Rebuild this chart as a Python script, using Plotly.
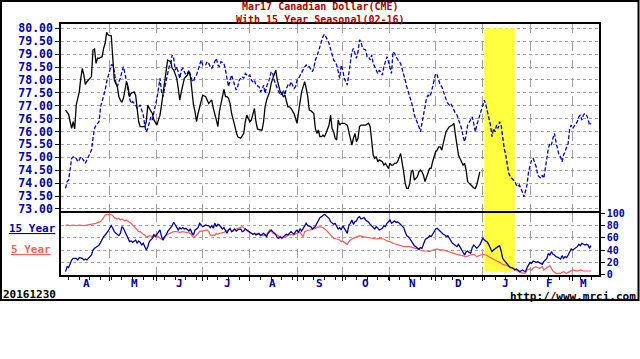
import pandas as pd
import plotly.graph_objects as go

# ---------------- data (day offsets from BASE_DATE) ----------------
BASE_DATE = pd.Timestamp("2016-03-30")

price_points = [
    (3, 76.83), (5, 76.67), (6, 76.38), (7, 76.12), (8, 76.38), (9, 76.10), (10, 77.03), (11, 77.35),
    (12, 77.54), (13, 78.06), (14, 78.45), (15, 78.19), (16, 77.83), (17, 77.93), (19, 78.06), (20, 78.13),
    (21, 79.16), (22, 79.20), (23, 78.64), (24, 78.84), (25, 78.84), (27, 78.90), (28, 79.22), (29, 79.42),
    (30, 79.84), (31, 79.74), (33, 79.71), (34, 78.90), (35, 77.99), (37, 77.74), (38, 77.35), (39, 77.22),
    (40, 77.13), (41, 77.29), (42, 77.61), (43, 77.93), (44, 77.74), (45, 77.35), (46, 77.48), (48, 77.54),
    (49, 77.41), (50, 76.96), (51, 76.38), (52, 76.19), (54, 76.19), (55, 76.19), (56, 76.38), (57, 77.03),
    (58, 76.90), (60, 76.70), (61, 76.45), (63, 76.25), (64, 76.45), (65, 76.64), (66, 77.03), (67, 77.48),
    (68, 77.87), (69, 78.19), (70, 78.77), (72, 78.71), (73, 78.45), (74, 78.38), (75, 78.19), (76, 78.06),
    (77, 77.67), (78, 77.22), (79, 77.54), (80, 77.87), (81, 78.06), (83, 78.19), (84, 78.32), (85, 78.13),
    (86, 77.41), (87, 77.03), (88, 76.77), (89, 76.38), (90, 76.70), (91, 76.96), (92, 77.22), (93, 77.41),
    (95, 77.35), (96, 77.22), (97, 77.09), (98, 77.16), (99, 77.22), (100, 76.90), (101, 76.70), (102, 76.45),
    (103, 76.19), (104, 76.77), (106, 77.35), (107, 77.63), (108, 77.35), (109, 77.35), (110, 77.29), (111, 77.09),
    (112, 76.70), (113, 76.51), (114, 76.25), (115, 75.99), (116, 75.80), (118, 75.74), (119, 75.86), (120, 75.93),
    (121, 76.38), (122, 76.64), (123, 76.51), (124, 76.38), (125, 76.45), (126, 76.70), (127, 76.90), (128, 76.38),
    (129, 76.10), (131, 76.06), (132, 76.06), (133, 76.38), (134, 76.96), (135, 77.22), (136, 77.41), (137, 77.54),
    (138, 77.87), (139, 78.06), (140, 78.25), (141, 78.38), (142, 77.99), (143, 77.74), (144, 77.54), (145, 77.48),
    (146, 77.35), (147, 77.41), (148, 77.22), (149, 76.96), (150, 76.96), (151, 76.90), (153, 76.70), (154, 76.45),
    (155, 76.32), (156, 76.77), (157, 77.22), (158, 77.54), (159, 77.74), (160, 77.93), (161, 77.67), (162, 77.35),
    (163, 76.83), (164, 76.81), (166, 76.70), (167, 76.12), (168, 75.93), (169, 76.06), (170, 75.80), (171, 75.80),
    (172, 75.86), (173, 75.80), (174, 75.93), (176, 76.25), (177, 76.64), (178, 76.12), (179, 75.99), (180, 75.74),
    (181, 75.67), (182, 76.45), (183, 76.25), (184, 76.32), (186, 76.32), (188, 76.25), (189, 75.99), (190, 75.74),
    (191, 75.48), (192, 75.74), (193, 75.93), (194, 75.61), (195, 75.74), (196, 76.19), (197, 76.25), (200, 76.25),
    (202, 76.32), (203, 76.19), (204, 75.74), (205, 75.09), (206, 74.96), (207, 75.03), (208, 74.83), (209, 74.90),
    (211, 74.83), (212, 74.70), (213, 74.77), (214, 74.64), (215, 74.57), (216, 74.77), (217, 74.70), (218, 74.70),
    (219, 74.77), (220, 74.77), (221, 74.83), (223, 75.15), (224, 74.83), (225, 74.44), (226, 73.99), (227, 73.80),
    (228, 73.80), (229, 73.99), (230, 74.44), (231, 74.51), (232, 74.12), (234, 74.25), (235, 74.44), (236, 74.51),
    (237, 74.44), (238, 74.31), (239, 74.06), (240, 74.25), (241, 74.38), (242, 74.57), (243, 74.57), (244, 74.83),
    (246, 75.22), (247, 75.28), (248, 75.41), (249, 75.41), (250, 75.28), (251, 75.61), (252, 75.80), (253, 76.02),
    (254, 76.12), (255, 76.19), (257, 76.25), (258, 76.32), (259, 75.86), (260, 75.35), (261, 75.09), (262, 74.96),
    (263, 74.83), (264, 74.70), (265, 74.77), (266, 74.51), (267, 74.06), (269, 73.93), (270, 73.86), (271, 73.82),
    (272, 73.80), (273, 73.93), (274, 74.19), (275, 74.44),
]

seasonal_points = [
    (3, 73.80), (4, 74.06), (5, 74.12), (6, 74.57), (7, 74.96), (8, 75.02), (9, 74.96), (10, 74.96),
    (11, 74.83), (12, 74.90), (13, 75.02), (14, 74.96), (15, 74.83), (16, 74.77), (17, 74.90), (18, 75.02),
    (19, 75.15), (20, 75.28), (21, 75.74), (22, 76.12), (23, 76.25), (24, 76.30), (25, 76.38), (26, 76.96),
    (27, 77.16), (28, 77.41), (29, 77.61), (30, 77.93), (31, 78.13), (32, 78.32), (33, 78.58), (34, 78.58),
    (35, 78.32), (36, 77.87), (37, 77.74), (38, 77.93), (39, 78.06), (40, 78.32), (41, 78.51), (42, 78.25),
    (43, 77.99), (44, 77.61), (45, 77.29), (46, 77.09), (47, 77.16), (48, 77.10), (49, 77.03), (50, 76.90),
    (51, 76.96), (52, 77.03), (53, 76.83), (54, 76.64), (55, 76.25), (56, 75.99), (57, 76.12), (58, 76.38),
    (59, 76.57), (60, 76.45), (61, 76.83), (62, 77.03), (63, 77.29), (64, 77.80), (65, 78.06), (66, 77.54),
    (67, 77.35), (68, 77.67), (69, 77.93), (70, 78.19), (71, 78.51), (72, 78.58), (73, 78.97), (74, 78.84),
    (75, 78.38), (76, 78.51), (77, 78.32), (78, 78.06), (79, 78.38), (80, 78.45), (81, 78.32), (82, 78.19),
    (83, 78.25), (84, 78.38), (85, 78.19), (86, 77.99), (87, 77.93), (88, 78.13), (89, 78.19), (90, 78.38),
    (91, 78.64), (92, 78.77), (93, 78.58), (94, 78.58), (95, 78.58), (96, 78.71), (97, 78.64), (98, 78.51),
    (99, 78.45), (100, 78.58), (101, 78.71), (102, 78.84), (103, 78.58), (104, 78.51), (105, 78.71), (106, 78.68),
    (107, 78.64), (108, 78.38), (109, 78.06), (110, 77.74), (111, 77.99), (112, 78.19), (113, 77.99), (114, 77.80),
    (115, 77.61), (116, 77.74), (117, 77.99), (118, 78.06), (119, 78.13), (120, 78.06), (121, 78.25), (122, 78.19),
    (123, 78.13), (124, 78.19), (125, 77.99), (126, 77.93), (127, 77.99), (128, 77.80), (129, 77.77), (130, 77.74),
    (131, 77.54), (132, 77.61), (133, 77.80), (134, 77.48), (135, 77.74), (136, 77.87), (137, 78.06), (138, 78.32),
    (139, 78.25), (140, 77.99), (141, 77.80), (142, 77.67), (143, 77.54), (144, 77.41), (145, 77.48), (146, 77.61),
    (147, 77.41), (148, 77.67), (149, 77.80), (150, 77.74), (151, 77.93), (152, 77.80), (153, 77.67), (154, 77.74),
    (155, 77.99), (156, 78.06), (157, 78.19), (158, 78.25), (159, 78.38), (160, 78.51), (161, 78.58), (162, 78.51),
    (163, 78.51), (164, 78.42), (165, 78.32), (166, 78.45), (167, 78.77), (168, 78.90), (169, 79.09), (170, 79.35),
    (171, 79.55), (172, 79.68), (173, 79.77), (174, 79.68), (175, 79.55), (176, 79.42), (177, 79.16), (178, 78.90),
    (179, 78.77), (180, 78.71), (181, 78.58), (182, 78.32), (183, 78.06), (184, 78.58), (185, 78.38), (186, 78.06),
    (187, 77.93), (188, 77.80), (189, 78.25), (190, 78.71), (191, 79.09), (192, 79.22), (193, 79.03), (194, 78.84),
    (195, 79.09), (196, 79.55), (197, 79.48), (198, 79.22), (199, 79.19), (200, 79.16), (201, 78.90), (202, 78.90),
    (203, 78.77), (204, 78.97), (205, 78.64), (206, 78.51), (207, 78.32), (208, 78.25), (209, 78.38), (210, 78.30),
    (211, 78.19), (212, 78.51), (213, 78.77), (214, 78.90), (215, 78.71), (216, 78.45), (217, 78.25), (218, 79.09),
    (219, 79.03), (220, 78.90), (221, 78.77), (222, 78.70), (223, 78.64), (224, 78.45), (225, 78.25), (226, 77.99),
    (227, 77.74), (228, 77.54), (229, 77.35), (230, 77.22), (231, 76.96), (232, 76.64), (233, 76.50), (234, 76.38),
    (235, 76.19), (236, 75.99), (237, 76.25), (238, 76.64), (239, 76.96), (240, 77.29), (241, 77.41), (242, 77.35),
    (243, 77.48), (244, 77.74), (245, 78.00), (246, 78.25), (247, 78.19), (248, 77.99), (249, 77.80), (250, 77.74),
    (251, 77.54), (252, 77.41), (253, 77.22), (254, 77.09), (255, 77.03), (256, 77.09), (257, 76.96), (258, 76.90),
    (259, 76.70), (260, 76.64), (261, 76.45), (262, 76.25), (263, 76.12), (264, 75.80), (265, 75.61), (266, 75.86),
    (267, 76.25), (268, 76.35), (270, 76.57), (271, 76.32), (272, 75.99), (273, 76.25), (274, 76.45), (275, 76.70),
    (276, 76.90), (277, 77.03), (278, 77.22), (279, 77.03), (280, 76.80), (281, 76.57), (282, 76.25), (283, 75.80),
    (284, 76.12), (285, 75.99), (286, 76.25), (287, 76.12), (288, 76.38), (289, 76.25), (290, 75.67), (291, 75.35),
    (292, 75.09), (293, 74.70), (294, 74.38), (295, 74.25), (296, 74.19), (297, 74.12), (298, 74.06), (299, 73.93),
    (300, 73.86), (301, 73.93), (302, 73.80), (303, 73.65), (304, 73.47), (305, 73.67), (306, 73.93), (307, 74.44),
    (308, 74.64), (309, 74.90), (310, 74.96), (311, 74.83), (312, 74.64), (313, 74.31), (314, 74.25), (315, 74.19),
    (316, 74.31), (317, 74.19), (318, 74.57), (319, 74.96), (320, 75.35), (321, 75.54), (322, 75.48), (323, 75.74),
    (324, 75.93), (325, 75.60), (326, 75.35), (327, 75.09), (328, 75.02), (329, 74.83), (330, 75.09), (331, 75.22),
    (332, 75.35), (333, 75.54), (334, 76.12), (335, 76.25), (336, 76.12), (337, 76.19), (338, 76.30), (339, 76.38),
    (340, 76.57), (341, 76.64), (342, 76.45), (343, 76.64), (344, 76.70), (345, 76.64), (346, 76.51), (347, 76.25),
    (348, 76.32),
]

index15_points = [
    (3, 4.7), (4, 12.8), (5, 11.2), (6, 18.3), (7, 23.7), (8, 26.4), (10, 26.4), (11, 23.7), (12, 27.5), (13, 27.0),
    (14, 26.4), (15, 23.7), (16, 25.4), (17, 23.7), (18, 27.5), (19, 29.2), (20, 31.9), (21, 40.1), (22, 42.8),
    (23, 43.9), (24, 46.0), (25, 48.2), (26, 53.7), (27, 59.1), (28, 61.9), (29, 64.6), (30, 67.3), (31, 71.1),
    (32, 75.5), (33, 79.8), (34, 75.5), (35, 70.0), (36, 67.5), (37, 65.7), (38, 63.5), (39, 67.3), (40, 78.2),
    (41, 75.5), (42, 70.0), (43, 67.3), (44, 61.9), (45, 53.7), (46, 54.8), (47, 52.6), (48, 54.5), (49, 56.4),
    (50, 51.0), (51, 54.8), (52, 52.6), (53, 48.2), (54, 51.0), (55, 45.5), (56, 40.1), (57, 45.5), (58, 53.7),
    (59, 56.5), (60, 59.1), (61, 64.6), (62, 61.9), (63, 65.7), (64, 70.0), (65, 72.8), (66, 61.9), (67, 56.4),
    (68, 61.9), (69, 64.6), (70, 70.0), (71, 73.0), (72, 75.5), (73, 79.8), (74, 85.3), (75, 80.9), (76, 75.5),
    (77, 72.8), (78, 76.6), (79, 74.4), (80, 76.6), (81, 74.4), (82, 75.5), (83, 73.0), (84, 71.1), (85, 74.4),
    (86, 67.3), (87, 64.6), (88, 72.8), (89, 74.4), (90, 76.6), (91, 83.6), (92, 80.9), (93, 78.2), (94, 79.5),
    (95, 80.9), (96, 79.8), (97, 79.8), (98, 76.6), (99, 79.8), (100, 75.5), (101, 83.6), (102, 78.2), (103, 82.0),
    (104, 80.9), (105, 77.0), (106, 74.4), (107, 76.6), (108, 71.1), (109, 67.3), (110, 72.8), (111, 75.5),
    (112, 70.0), (113, 71.1), (114, 74.4), (115, 71.1), (116, 72.8), (117, 73.5), (118, 74.4), (119, 70.0),
    (120, 71.1), (121, 74.4), (122, 72.8), (123, 71.1), (124, 70.0), (125, 67.3), (126, 65.7), (127, 67.3),
    (128, 64.6), (129, 66.0), (130, 67.3), (131, 63.5), (132, 65.7), (133, 67.3), (134, 64.6), (135, 61.9),
    (136, 67.3), (137, 71.1), (138, 72.8), (139, 70.0), (140, 68.0), (141, 65.7), (142, 60.2), (143, 59.1),
    (144, 61.9), (145, 59.1), (146, 61.9), (147, 63.5), (148, 65.7), (149, 64.6), (150, 67.3), (151, 70.0),
    (152, 68.0), (153, 65.7), (154, 70.0), (155, 72.8), (156, 68.9), (157, 74.4), (158, 71.1), (159, 75.5),
    (160, 80.9), (161, 83.6), (162, 79.8), (163, 79.0), (164, 78.2), (165, 74.4), (166, 76.6), (167, 78.2),
    (168, 83.6), (169, 89.1), (170, 92.9), (171, 94.5), (172, 97.3), (173, 98.3), (174, 96.2), (175, 94.0),
    (176, 91.8), (177, 86.4), (178, 83.6), (179, 82.0), (180, 83.6), (181, 79.8), (182, 74.4), (183, 76.6),
    (184, 72.8), (185, 79.8), (186, 75.5), (187, 71.0), (188, 67.3), (189, 80.9), (190, 83.6), (191, 89.1),
    (192, 82.0), (193, 86.4), (194, 87.5), (195, 92.9), (196, 94.5), (197, 90.7), (198, 92.0), (199, 92.9),
    (200, 89.1), (201, 87.5), (202, 85.3), (203, 82.0), (204, 79.8), (205, 76.6), (206, 74.4), (207, 78.2),
    (208, 75.5), (209, 72.8), (210, 74.0), (211, 75.5), (212, 79.8), (213, 78.2), (214, 83.6), (215, 86.4),
    (216, 89.1), (217, 83.6), (218, 86.4), (219, 87.5), (220, 85.3), (221, 85.8), (222, 84.0), (223, 82.0),
    (224, 79.8), (225, 76.6), (226, 70.0), (227, 63.5), (228, 61.9), (229, 59.1), (230, 54.8), (231, 51.0),
    (232, 47.1), (233, 45.5), (234, 43.9), (235, 41.2), (236, 43.9), (237, 42.8), (238, 49.3), (239, 56.4),
    (240, 59.1), (241, 60.2), (242, 63.5), (243, 61.9), (244, 65.7), (245, 70.0), (246, 74.4), (247, 75.5),
    (248, 72.8), (249, 70.0), (250, 67.3), (251, 65.7), (252, 64.6), (253, 61.9), (254, 63.5), (255, 59.1),
    (256, 56.0), (257, 51.0), (258, 49.3), (259, 47.1), (260, 45.5), (261, 49.3), (262, 45.5), (263, 41.7),
    (264, 37.3), (265, 31.9), (266, 37.3), (267, 38.4), (268, 36.0), (269, 34.6), (270, 43.9), (271, 48.2),
    (272, 45.5), (273, 42.8), (274, 45.5), (275, 48.2), (276, 53.7), (277, 59.1), (278, 56.4), (279, 54.8),
    (280, 52.6), (281, 48.2), (282, 42.8), (283, 37.3), (284, 40.1), (285, 42.8), (286, 43.9), (287, 45.5),
    (288, 47.1), (289, 38.4), (290, 26.4), (291, 23.0), (292, 19.9), (293, 15.5), (294, 12.8), (295, 11.2),
    (296, 11.2), (297, 10.1), (298, 7.4), (299, 9.0), (300, 7.4), (301, 4.7), (302, 6.0), (303, 7.4), (304, 5.7),
    (305, 4.7), (306, 11.2), (307, 16.6), (308, 19.9), (309, 18.3), (310, 22.1), (311, 21.0), (312, 19.9),
    (313, 21.0), (314, 19.5), (315, 18.3), (316, 16.6), (317, 21.0), (318, 23.7), (319, 26.4), (320, 34.6),
    (321, 31.9), (322, 37.3), (323, 33.0), (324, 31.9), (325, 29.2), (326, 28.5), (327, 27.5), (328, 25.4),
    (329, 30.8), (330, 26.4), (331, 29.2), (332, 27.5), (333, 31.9), (334, 37.3), (335, 41.7), (336, 40.1),
    (337, 42.0), (338, 44.5), (339, 45.5), (340, 49.3), (341, 47.1), (342, 51.0), (343, 49.3), (344, 48.2),
    (345, 49.3), (346, 48.2), (347, 42.8), (348, 47.1),
]

index5_points = [
    (3, 79.8), (4, 80.9), (6, 79.8), (8, 80.9), (10, 79.8), (12, 80.9), (15, 79.8), (17, 80.9), (19, 82.0),
    (21, 82.0), (23, 83.6), (26, 86.4), (27, 89.1), (28, 92.9), (29, 97.3), (30, 98.3), (31, 98.3), (32, 97.3),
    (33, 98.3), (34, 96.2), (35, 92.9), (37, 90.7), (38, 91.8), (39, 89.1), (40, 90.7), (41, 89.1), (42, 87.5),
    (43, 89.1), (44, 86.4), (45, 85.3), (46, 83.6), (47, 80.9), (49, 76.6), (50, 72.8), (51, 70.0), (52, 70.0),
    (53, 67.3), (54, 65.7), (55, 64.6), (56, 61.9), (57, 61.9), (58, 63.5), (60, 61.9), (61, 65.7), (62, 64.6),
    (63, 63.5), (64, 61.9), (65, 59.1), (66, 58.0), (67, 56.4), (68, 60.2), (69, 64.6), (70, 65.7), (72, 67.3),
    (73, 68.9), (74, 70.0), (76, 70.0), (78, 68.9), (80, 70.0), (82, 68.9), (85, 67.3), (86, 63.5), (87, 60.2),
    (88, 61.9), (89, 65.7), (90, 67.3), (91, 70.0), (93, 71.1), (96, 72.8), (97, 70.0), (98, 64.6), (99, 63.5),
    (100, 64.6), (101, 63.5), (102, 67.3), (103, 65.7), (104, 67.3), (107, 68.9), (109, 71.1), (110, 72.8),
    (111, 74.4), (112, 71.1), (113, 72.8), (115, 74.4), (118, 76.6), (119, 78.2), (120, 76.6), (121, 74.4),
    (122, 71.1), (123, 70.0), (124, 68.9), (125, 67.3), (126, 65.7), (128, 67.3), (131, 64.6), (133, 63.5),
    (135, 65.7), (136, 70.0), (137, 72.8), (138, 71.1), (139, 67.3), (142, 64.6), (144, 60.2), (146, 60.2),
    (148, 61.9), (150, 65.7), (153, 64.6), (155, 67.3), (157, 68.9), (159, 61.9), (160, 70.0), (161, 71.1),
    (164, 72.8), (166, 74.4), (168, 76.6), (170, 78.2), (172, 76.6), (174, 72.8), (177, 64.6), (179, 59.1),
    (181, 58.0), (183, 56.4), (184, 53.7), (185, 54.8), (186, 52.6), (188, 49.3), (189, 53.7), (190, 56.4),
    (192, 59.1), (194, 61.9), (196, 63.5), (198, 61.9), (201, 60.2), (203, 59.1), (205, 59.1), (207, 58.0),
    (209, 59.1), (212, 58.0), (214, 54.8), (216, 53.7), (218, 51.0), (220, 49.3), (223, 47.1), (225, 45.5),
    (227, 45.5), (229, 45.5), (231, 43.9), (234, 41.7), (236, 40.1), (238, 38.4), (240, 38.4), (242, 37.3),
    (244, 40.1), (247, 41.7), (249, 40.1), (251, 40.1), (253, 38.4), (255, 37.3), (258, 34.6), (260, 33.0),
    (262, 31.9), (264, 30.8), (266, 29.2), (269, 31.9), (271, 33.0), (273, 29.2), (275, 30.8), (277, 33.0),
    (279, 31.9), (282, 27.5), (284, 23.7), (286, 22.1), (288, 19.9), (290, 16.6), (293, 14.5), (295, 12.3),
    (297, 10.1), (299, 7.4), (301, 4.7), (302, 3.0), (304, 1.9), (305, 3.0), (306, 7.4), (308, 9.0), (309, 7.4),
    (310, 10.1), (311, 11.2), (312, 12.8), (313, 11.2), (314, 10.1), (316, 12.8), (317, 7.4), (319, 11.2),
    (320, 12.8), (321, 14.5), (322, 10.1), (323, 5.7), (325, 1.9), (328, 1.9), (330, 4.7), (332, 1.9), (334, 4.7),
    (336, 7.4), (339, 5.7), (341, 7.4), (343, 5.7), (345, 5.7), (348, 5.7),
]

month_labels = ["A", "M", "J", "J", "A", "S", "O", "N", "D", "J", "F", "M"]
month_label_dates = ["2016-04-16", "2016-05-17", "2016-06-16", "2016-07-17", "2016-08-16", "2016-09-16",
                     "2016-10-16", "2016-11-16", "2016-12-16", "2017-01-16", "2017-02-14", "2017-03-08"]
price_tick_values = [73.0, 73.5, 74.0, 74.5, 75.0, 75.5, 76.0, 76.5, 77.0, 77.5, 78.0, 78.5, 79.0, 79.5, 80.0]
price_tick_labels = [f"{v:.2f}" for v in price_tick_values]
index_tick_values = [0, 20, 40, 60, 80, 100]
highlight_window = ["2017-01-02", "2017-01-22"]
title_lines = ["Mar17 Canadian Dollar(CME)", "With 15 Year Seasonal(02-16)"]
chart_date_label = "20161230"
source_label = "http://www.mrci.com"
legend_15 = "15 Year"
legend_5 = "5 Year"

# ---------------- helpers ----------------
def to_dates(points):
    return [BASE_DATE + pd.Timedelta(days=d) for d, _ in points]

def to_vals(points):
    return [v for _, v in points]

W, H = 640, 359
L, R, T, B = 61, 41, 24, 84
PW, PH = W - L - R, H - T - B

def px(x):
    return (x - L) / PW

def py(y):
    return (H - B - y) / PH

SPLIT = py(212.5)
X_RANGE = ["2016-03-30", "2017-03-18 06:00"]
month_starts = pd.date_range("2016-05-01", "2017-03-01", freq="MS")
weekly = pd.date_range("2016-04-04", "2017-03-18", freq="7D")

FONT = "DejaVu Sans Mono"
NAVY = "#0000a0"
GRID = "#a0a0a0"

fig = go.Figure()
fig.add_trace(go.Scatter(x=to_dates(seasonal_points), y=to_vals(seasonal_points), mode="lines",
                         line=dict(color="#0000c0", width=1.3, dash="4px,2px"), xaxis="x", yaxis="y"))
fig.add_trace(go.Scatter(x=to_dates(price_points), y=to_vals(price_points), mode="lines",
                         line=dict(color="black", width=1.3), xaxis="x", yaxis="y"))
fig.add_trace(go.Scatter(x=to_dates(index5_points), y=to_vals(index5_points), mode="lines",
                         line=dict(color="#ff5a5a", width=1.2), xaxis="x2", yaxis="y2"))
fig.add_trace(go.Scatter(x=to_dates(index15_points), y=to_vals(index15_points), mode="lines",
                         line=dict(color=NAVY, width=1.3), xaxis="x2", yaxis="y2"))

common_x = dict(type="date", range=X_RANGE, tickmode="array", tickvals=list(month_starts),
                showgrid=True, gridcolor=GRID, griddash="dash", gridwidth=1, showline=True,
                linecolor="black", linewidth=1.5, zeroline=False)

fig.update_layout(
    width=W, height=H, margin=dict(l=L, r=R, t=T, b=B), showlegend=False,
    plot_bgcolor="white", paper_bgcolor="white",
    xaxis=dict(**common_x, domain=[0, 1], anchor="y", side="top", mirror=False, showticklabels=False,
               ticks="", matches="x2"),
    yaxis=dict(domain=[SPLIT, 1], anchor="x", range=[72.864, 80.167], tickmode="array",
               tickvals=price_tick_values, ticktext=price_tick_labels, ticks="outside", ticklen=4,
               tickcolor="black", showgrid=True, gridcolor=GRID, griddash="dot", showline=True, mirror=True,
               linecolor="black", linewidth=1.5, zeroline=False,
               tickfont=dict(family=FONT, size=11.5, color=NAVY, weight="bold")),
    xaxis2=dict(**common_x, domain=[0, 1], anchor="y2", mirror=True, showticklabels=False, ticks="outside",
                ticklen=4, tickcolor="black",
                minor=dict(tickmode="array", tickvals=list(weekly), ticks="outside", ticklen=3,
                           tickcolor="black", showgrid=False)),
    yaxis2=dict(domain=[0, SPLIT], anchor="x2", side="right", range=[-0.8, 101.3], tickmode="array",
                tickvals=index_tick_values, ticks="outside", ticklen=4, tickcolor="black",
                showgrid=True, gridcolor=GRID, griddash="dot", showline=True, mirror=True,
                linecolor="black", linewidth=1.5, zeroline=False,
                tickfont=dict(family=FONT, size=10, color=NAVY, weight="bold")),
)

# highlight window
fig.add_shape(type="rect", xref="x", yref="y", x0=highlight_window[0], x1=highlight_window[1],
              y0=72.864, y1=80.0, fillcolor="#ffff40", line=dict(width=0), layer="between")
fig.add_shape(type="rect", xref="x2", yref="y2", x0=highlight_window[0], x1=highlight_window[1],
              y0=4.6, y1=101.3, fillcolor="#ffff40", line=dict(width=0), layer="between")

# outer frame
fig.add_shape(type="rect", xref="paper", yref="paper", x0=px(1), x1=px(638.5), y0=py(300), y1=py(1),
              line=dict(color="black", width=2), fillcolor="rgba(0,0,0,0)", layer="above")

ann_font = dict(family=FONT, size=11, weight="bold")
for lbl, d in zip(month_labels, month_label_dates):
    fig.add_annotation(x=d, xref="x2", y=py(283), yref="paper", text=lbl, showarrow=False,
                       font=dict(**ann_font, color=NAVY), xanchor="center", yanchor="middle", borderpad=0)

fig.add_annotation(x=px(320), y=py(12.5), xref="paper", yref="paper", text="<br>".join(title_lines),
                   showarrow=False, font=dict(family=FONT, size=10, weight="bold", color="#a80000"),
                   xanchor="center", yanchor="middle", align="center", borderpad=0)

fig.add_annotation(x=px(7), y=py(229), xref="paper", yref="paper", text=f"<u>{legend_15}</u>",
                   showarrow=False, font=dict(**ann_font, color=NAVY), xanchor="left", yanchor="middle")
fig.add_annotation(x=px(9), y=py(249), xref="paper", yref="paper", text=f"<u>{legend_5}</u>",
                   showarrow=False, font=dict(**ann_font, color="#ff6060"), xanchor="left", yanchor="middle")
fig.add_annotation(x=px(2), y=py(294.5), xref="paper", yref="paper", text=chart_date_label,
                   showarrow=False, font=dict(**ann_font, color="black"), xanchor="left", yanchor="middle",
                   borderpad=0)
fig.add_annotation(x=px(637), y=py(296), xref="paper", yref="paper", text=source_label,
                   showarrow=False, font=dict(**ann_font, color="black"), xanchor="right", yanchor="middle",
                   borderpad=0)

fig.write_html("out.html", config={"displayModeBar": False},
               post_script="document.body.style.margin='0';document.body.style.padding='0';")
